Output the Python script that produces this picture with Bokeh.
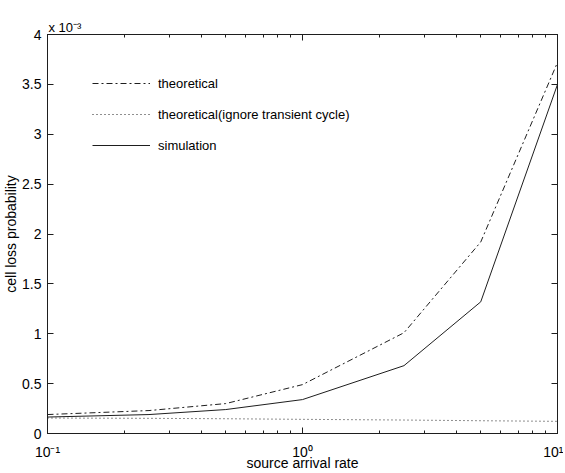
import math
from bokeh.plotting import figure
from bokeh.models import (FixedTicker, LinearAxis, LogAxis, Legend, LegendItem, Title)
from bokeh.embed import file_html
from bokeh.resources import INLINE

# ---- data (cell loss probability in units of 1e-3) ----
arrival_rate = [0.1, 0.25, 0.5, 1.0, 2.5, 5.0, 10.0]
theoretical = [0.19, 0.23, 0.30, 0.49, 1.01, 1.92, 3.72]
theoretical_ignore = [0.155, 0.152, 0.148, 0.142, 0.135, 0.128, 0.122]
simulation = [0.165, 0.19, 0.24, 0.34, 0.68, 1.32, 3.50]

x_major = [0.1, 1, 10]
x_minor = [0.2, 0.3, 0.4, 0.5, 0.6, 0.7, 0.8, 0.9, 2, 3, 4, 5, 6, 7, 8, 9]
x_labels = ["10⁻¹", "10⁰", "10¹"]
y_major = [0, 0.5, 1, 1.5, 2, 2.5, 3, 3.5, 4]
y_labels = ["0", "0.5", "1", "1.5", "2", "2.5", "3", "3.5", "4"]

FONT = "Liberation Sans"
INK = "#1e1e1e"

p = figure(x_axis_type="log", x_range=(0.1, 10), y_range=(0, 4),
           width=563, height=473,
           min_border_left=47, min_border_top=34, min_border_bottom=40, min_border_right=6,
           output_backend="svg", toolbar_location=None,
           background_fill_color="white", border_fill_color="white")
p.grid.visible = False
p.outline_line_color = INK
p.outline_line_width = 1

def style_axis(ax, ticks, labels, show_labels):
    ax.axis_line_color = INK
    ax.major_tick_line_color = INK
    ax.minor_tick_line_color = INK
    ax.major_tick_in = 6
    ax.major_tick_out = 0
    ax.minor_tick_in = 3
    ax.minor_tick_out = 0
    ax.major_label_text_font = FONT
    ax.major_label_text_color = "black"
    ax.major_label_text_font_size = "14px"
    ax.axis_label_text_font = FONT
    ax.axis_label_text_font_size = "14px"
    ax.axis_label_text_font_style = "normal"
    ax.axis_label_text_color = "black"
    if show_labels:
        ax.major_label_overrides = dict(zip(ticks, labels))
    else:
        ax.major_label_overrides = {t: "" for t in ticks}
        ax.major_label_standoff = 0

xa = p.xaxis[0]
xa.ticker = FixedTicker(ticks=x_major, minor_ticks=x_minor)
style_axis(xa, x_major, x_labels, True)
xa.major_label_standoff = 10
xa.axis_label = "source arrival rate"
xa.axis_label_standoff = -8

ya = p.yaxis[0]
ya.ticker = FixedTicker(ticks=y_major, minor_ticks=[])
style_axis(ya, y_major, y_labels, True)
ya.major_label_standoff = 6
ya.axis_label = "cell loss probability"
ya.axis_label_standoff = 0

top = LogAxis(ticker=FixedTicker(ticks=x_major, minor_ticks=x_minor))
style_axis(top, x_major, x_labels, False)
p.add_layout(top, "above")
right = LinearAxis(ticker=FixedTicker(ticks=y_major, minor_ticks=[]))
style_axis(right, y_major, y_labels, False)
p.add_layout(right, "right")

p.title = Title(text="x 10⁻³", align="left", offset=1, standoff=0,
                text_font=FONT, text_font_size="13px", text_font_style="normal",
                text_color="black")

r1 = p.line(arrival_rate, theoretical, line_color=INK, line_width=1, line_dash="6 3 2 3")
r2 = p.line(arrival_rate, theoretical_ignore, line_color=INK, line_width=1, line_dash="1 3")
r3 = p.line(arrival_rate, simulation, line_color=INK, line_width=1)

legend = Legend(items=[LegendItem(label="theoretical", renderers=[r1]),
                       LegendItem(label="theoretical(ignore transient cycle)", renderers=[r2]),
                       LegendItem(label="simulation", renderers=[r3])],
                location=(45, 278), padding=0, margin=0, spacing=11,
                glyph_width=58, glyph_height=20, label_height=20, label_standoff=8,
                label_text_font=FONT, label_text_font_size="13px", label_text_color="black",
                border_line_color=None, background_fill_alpha=0)
p.add_layout(legend, "center")

open("out.html", "w").write(file_html(p, INLINE))
